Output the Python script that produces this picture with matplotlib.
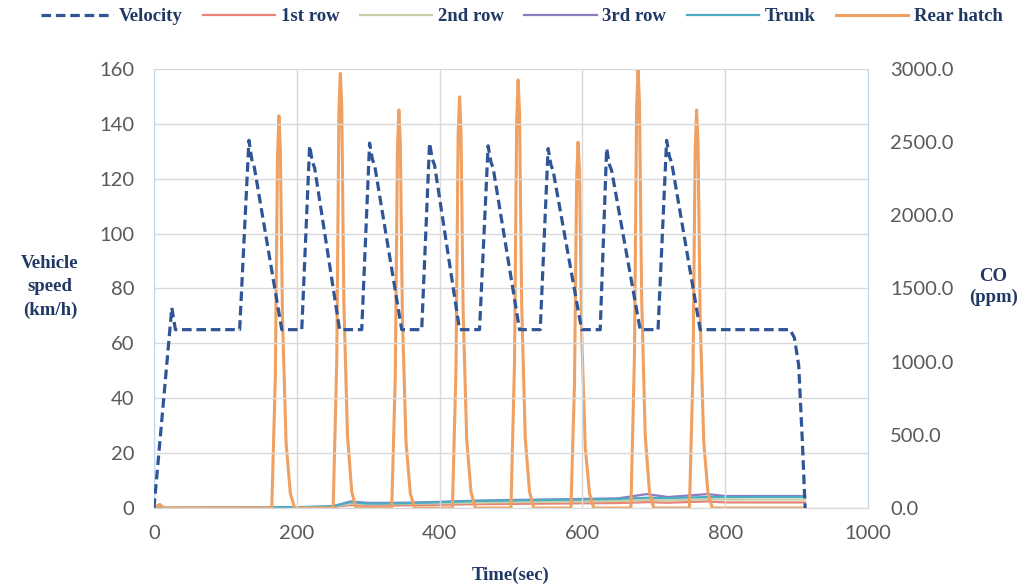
import numpy as np
import matplotlib.pyplot as plt
from matplotlib.ticker import FormatStrFormatter

# velocity profile (sec, km/h)
vel_t = [0, 25, 30, 120, 133, 137, 140, 179, 207, 218, 222, 225, 260, 291, 302, 306, 309, 347,
         375, 386, 390, 393, 428, 456, 468, 472, 475, 512, 541, 552, 556, 559, 599,
         625, 634, 638, 641, 681, 706, 718, 722, 725, 765, 891, 897, 903, 908, 912]
vel_v = [0, 73, 65, 65, 134, 127, 125, 65, 65, 132, 126, 124, 65, 65, 133, 127, 125, 65,
         65, 133, 127, 125, 65, 65, 132, 126, 124, 65, 65, 131, 125, 123, 65,
         65, 131, 125, 123, 65, 65, 134, 128, 126, 65, 65, 62, 52, 25, 0]

# rear hatch CO spikes (sec, ppm)
hatch_t = [0, 8, 14, 165, 170, 173, 175, 177, 180, 185, 191, 197,
           251, 256, 259, 261, 263, 266, 271, 277, 283,
           333, 338, 341, 343, 345, 348, 353, 359, 365,
           418, 423, 426, 428, 430, 433, 438, 444, 450,
           500, 505, 508, 510, 512, 515, 520, 526, 532,
           584, 589, 592, 594, 596, 599, 604, 610, 616,
           668, 673, 676, 678, 680, 683, 688, 694, 700,
           750, 755, 758, 760, 762, 765, 770, 776, 782, 912]
hatch_v = [0, 25, 0, 0, 900, 2400, 2680, 2450, 1300, 450, 100, 0,
           0, 1000, 2700, 2970, 2750, 1400, 500, 110, 0,
           0, 900, 2450, 2720, 2500, 1300, 450, 100, 0,
           0, 950, 2550, 2810, 2580, 1350, 470, 110, 0,
           0, 1000, 2650, 2925, 2700, 1400, 480, 110, 0,
           0, 850, 2250, 2500, 2300, 1200, 420, 100, 0,
           0, 1050, 2730, 3000, 2770, 1450, 500, 110, 0,
           0, 950, 2450, 2720, 2500, 1300, 450, 100, 0, 0]

# cabin CO at low level (sec, ppm)
low_t = [0, 50, 100, 150, 200, 250, 275, 300, 350, 400, 450, 500, 550, 600, 650,
         690, 720, 775, 800, 850, 912]
row1 = [0, 1, 1, 2, 3, 5, 20, 15, 18, 22, 26, 28, 30, 32, 34, 40, 36, 45, 38, 38, 38]
row2 = [0, 1, 2, 3, 4, 8, 30, 25, 28, 32, 36, 40, 42, 45, 48, 55, 52, 60, 58, 58, 58]
row3 = [0, 1, 2, 3, 5, 10, 45, 35, 36, 42, 50, 55, 58, 62, 66, 95, 75, 95, 82, 82, 82]
trunk = [0, 2, 3, 4, 6, 12, 40, 30, 32, 40, 48, 52, 55, 58, 62, 70, 68, 75, 75, 76, 76]

navy = '#1F3864'
tick_col = '#595959'
serif = ['Liberation Serif', 'DejaVu Serif']

fig = plt.figure(figsize=(10.21, 5.86), dpi=100)
ax = fig.add_axes([0.1508, 0.1331, 0.6993, 0.7492])
ax2 = ax.twinx()

l0, = ax.plot(vel_t, vel_v, color='#2F5597', lw=2.3, ls=(0, (3, 1.5)), label='Velocity', zorder=5)
l1, = ax2.plot(low_t, row1, color='#E8837A', lw=1.6, label='1st row')
l2, = ax2.plot(low_t, row2, color='#C5CFA5', lw=1.6, label='2nd row')
l3, = ax2.plot(low_t, row3, color='#8E7CC3', lw=1.6, label='3rd row')
l4, = ax2.plot(low_t, trunk, color='#4BACC6', lw=1.6, label='Trunk')
l5, = ax2.plot(hatch_t, hatch_v, color='#F0A060', lw=2.2, label='Rear hatch')

ax.set_zorder(ax2.get_zorder() + 1)
ax.patch.set_visible(False)

ax.set_xlim(0, 1000)
ax.set_ylim(0, 160)
ax2.set_ylim(0, 3000)
ax.set_xticks(np.arange(0, 1001, 200))
ax.set_yticks(np.arange(0, 161, 20))
ax2.set_yticks(np.arange(0, 3001, 500))
ax2.yaxis.set_major_formatter(FormatStrFormatter('%.1f'))

ax.grid(True, color='#D9D9D9', lw=1)
for a in (ax, ax2):
    a.tick_params(length=0, labelsize=14.5, labelcolor=tick_col)
    for lab in a.get_xticklabels() + a.get_yticklabels():
        lab.set_family(['Lato', 'DejaVu Sans'])
    for s in a.spines.values():
        s.set_visible(False)
ax.tick_params(axis='y', pad=14)
ax.tick_params(axis='x', pad=12)
ax2.tick_params(axis='y', pad=16)
ax.spines['left'].set_visible(True)
ax.spines['left'].set_color('#BDD7EE')
ax2.spines['right'].set_visible(True)
ax2.spines['right'].set_color('#BDD7EE')
ax.spines['bottom'].set_visible(True)
ax.spines['bottom'].set_color('#D9D9D9')

fig.text(0.049, 0.51, 'Vehicle\nspeed\n(km/h)', ha='center', va='center', fontsize=13.5,
         fontweight='bold', color=navy, family=serif, linespacing=1.5)
fig.text(0.973, 0.51, 'CO\n(ppm)', ha='center', va='center', fontsize=13.5,
         fontweight='bold', color=navy, family=serif, linespacing=1.3)
fig.text(0.5, 0.018, 'Time(sec)', ha='center', va='center', fontsize=13.5,
         fontweight='bold', color=navy, family=serif)

leg = fig.legend(handles=[l0, l1, l2, l3, l4, l5], loc='upper center', bbox_to_anchor=(0.511, 1.015),
                 ncol=6, frameon=False, handlelength=3.85, columnspacing=1.1, handletextpad=0.3,
                 prop={'family': serif, 'weight': 'bold', 'size': 13.5})
for t in leg.get_texts():
    t.set_color(navy)

fig.savefig('out.png', dpi=100)
